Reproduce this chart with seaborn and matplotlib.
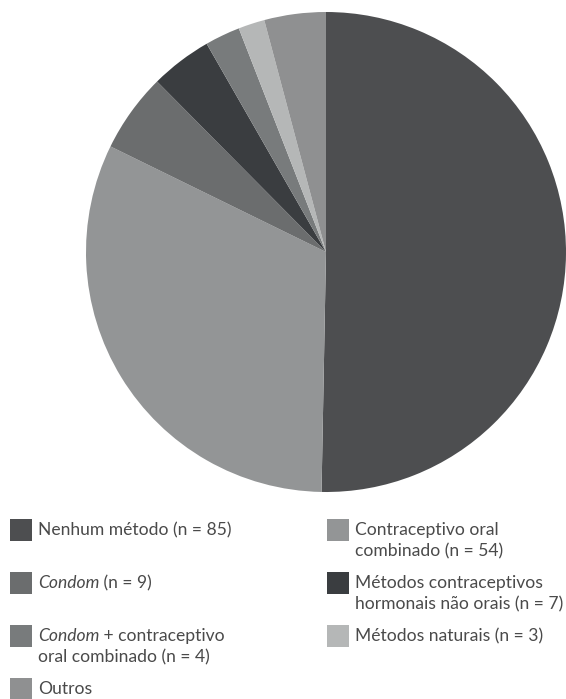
import matplotlib
matplotlib.use("Agg")
import matplotlib.pyplot as plt
import seaborn as sns
from matplotlib.patches import Rectangle

# -------------------- DATA --------------------
categories = ["Nenhum método", "Contraceptivo oral combinado", "Condom",
              "Métodos contraceptivos hormonais não orais",
              "Condom + contraceptivo oral combinado", "Métodos naturais", "Outros"]
counts = [85, 54, 9, 7, 4, 3, 7]
colors = ["#4d4e50", "#939596", "#6b6d6e", "#3a3d40", "#787b7c", "#b5b7b7", "#8f9091"]

# legend text: list of lines, each line a list of (text, italic) pieces
legend_lines = [
    [[("Nenhum método (n = 85)", False)]],
    [[("Contraceptivo oral", False)], [("combinado (n = 54)", False)]],
    [[("Condom", True), (" (n = 9)", False)]],
    [[("Métodos contraceptivos", False)], [("hormonais não orais (n = 7)", False)]],
    [[("Condom", True), (" + contraceptivo", False)], [("oral combinado (n = 4)", False)]],
    [[("Métodos naturais (n = 3)", False)]],
    [[("Outros", False)]],
]

# -------------------- STYLE --------------------
sns.set_theme(style="white")
plt.rcParams["font.family"] = ["Lato", "DejaVu Sans"]

W, H = 566, 699
fig = plt.figure(figsize=(W / 100, H / 100), dpi=100)

# -------------------- PIE --------------------
cx, cy, r = 326, 252, 240
ax = fig.add_axes([(cx - r) / W, (H - cy - r) / H, 2 * r / W, 2 * r / H])
ax.pie(counts, colors=colors, startangle=90, counterclock=False,
       wedgeprops=dict(linewidth=0))
ax.set_xlim(-1, 1)
ax.set_ylim(-1, 1)
ax.set_aspect("equal")

# -------------------- LEGEND --------------------
lax = fig.add_axes([0, 0, 1, 1])
lax.set_xlim(0, W)
lax.set_ylim(H, 0)
lax.axis("off")

txt_color = "#4a4a4a"
fs = 12.6
line_gap = 21
row_top = [519, 519, 572, 572, 625, 625, 678]
col_x = [10, 327, 10, 327, 10, 327, 10]

for i, lines in enumerate(legend_lines):
    x0, y0 = col_x[i], row_top[i]
    lax.add_patch(Rectangle((x0, y0), 22, 22, facecolor=colors[i], edgecolor="none"))
    for j, pieces in enumerate(lines):
        yc = y0 + 11 + j * line_gap
        prev = None
        for text, italic in pieces:
            style = "italic" if italic else "normal"
            if prev is None:
                prev = lax.text(x0 + 28, yc, text, fontsize=fs, style=style,
                                color=txt_color, ha="left", va="center")
            else:
                prev = lax.annotate(text, xy=(1, 0), xycoords=prev, fontsize=fs,
                                    style=style, color=txt_color,
                                    ha="left", va="bottom")

fig.savefig("out.png", dpi=100)
